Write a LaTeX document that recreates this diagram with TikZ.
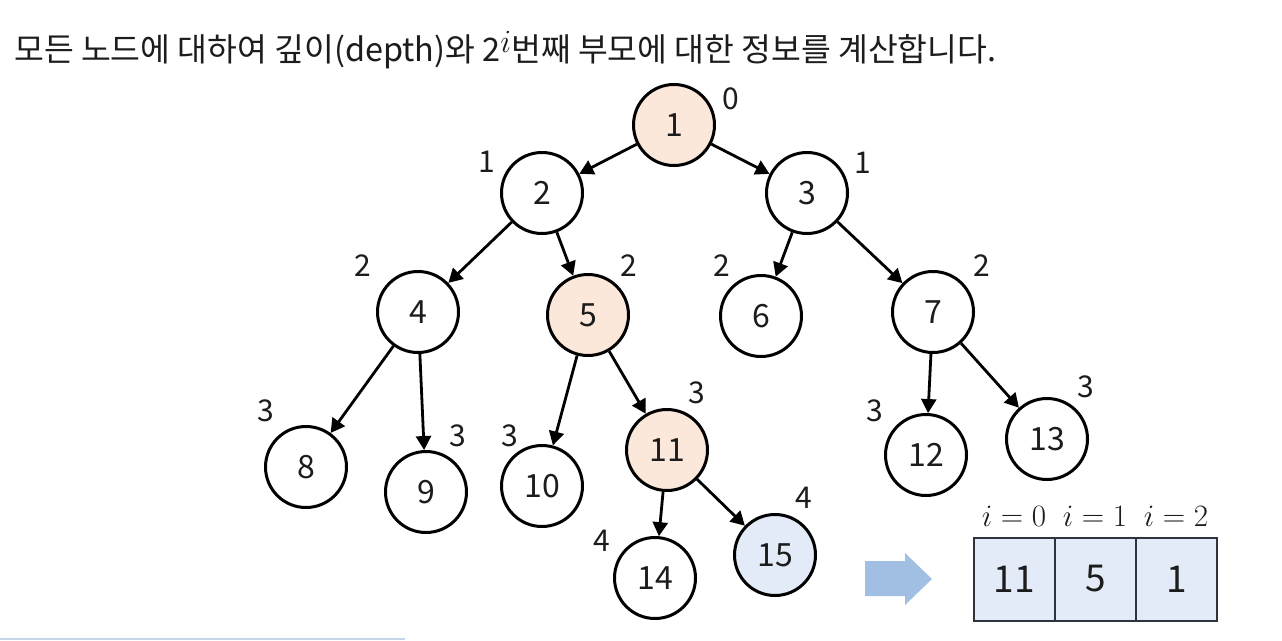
\documentclass[tikz,border=0pt]{standalone}
\usepackage{fontspec}
\setmainfont{Noto Sans CJK KR}
\usetikzlibrary{arrows.meta}
\definecolor{txt}{RGB}{28,28,28}
\definecolor{peach}{RGB}{252,232,218}
\definecolor{paleblue}{RGB}{226,235,247}
\definecolor{arrowblue}{RGB}{160,191,226}
\definecolor{boxline}{RGB}{45,52,60}
\definecolor{stripblue}{RGB}{196,214,232}
\begin{document}
\begin{tikzpicture}[x=1pt,y=-1pt,
  tn/.style={circle, draw=black, line width=3pt, minimum size=81pt, inner sep=0pt,
    fill=white, text=txt, font=\fontsize{32}{32}\selectfont},
  hl/.style={tn, fill=peach},
  hb/.style={tn, fill=paleblue},
  dl/.style={text=txt, font=\fontsize{30}{30}\selectfont, inner sep=0pt},
  edge/.style={line width=2.8pt, draw=black, -{Triangle[length=14pt,width=15pt]}},
  cell/.style={draw=boxline, line width=2pt, fill=paleblue, minimum width=81pt,
    minimum height=83pt, inner sep=0pt, text=txt, font=\fontsize{37}{37}\selectfont},
  il/.style={text=txt, font=\fontsize{24.88}{24.88}\selectfont, inner sep=0pt}]
\useasboundingbox (0,0) rectangle (1282,640);
\fill[white] (0,0) rectangle (1282,640);

% title
\node[anchor=west, text=txt, inner sep=0pt, font=\fontsize{32.4}{32.4}\selectfont] (title) at (14,50)
  {모든 노드에 대하여 깊이(depth)와 2\raisebox{0.3em}{\scalebox{1.3}{$i$}}번째 부모에 대한 정보를 계산합니다.};

% nodes
\node[hl] (n1) at (674,125) {1};
\node[tn] (n2) at (542,193) {2};
\node[tn] (n3) at (807,193) {3};
\node[tn] (n4) at (418,312) {4};
\node[hl] (n5) at (588,315) {5};
\node[tn] (n6) at (761,316) {6};
\node[tn] (n7) at (933,312) {7};
\node[tn] (n8) at (306,467) {8};
\node[tn] (n9) at (426,492) {9};
\node[tn] (n10) at (542,486) {10};
\node[hl] (n11) at (667,450) {11};
\node[tn] (n12) at (926,455) {12};
\node[tn] (n13) at (1047,439) {13};
\node[tn] (n14) at (655,578) {14};
\node[hb] (n15) at (775,555) {15};

% edges
\draw[edge] (n1) -- (n2);
\draw[edge] (n1) -- (n3);
\draw[edge] (n2) -- (n4);
\draw[edge] (n2) -- (n5);
\draw[edge] (n3) -- (n6);
\draw[edge] (n3) -- (n7);
\draw[edge] (n4) -- (n8);
\draw[edge] (n4) -- (n9);
\draw[edge] (n5) -- (n10);
\draw[edge] (n5) -- (n11);
\draw[edge] (n7) -- (n12);
\draw[edge] (n7) -- (n13);
\draw[edge] (n11) -- (n14);
\draw[edge] (n11) -- (n15);

% depth labels
\node[dl] (d1) at (731,99) {0};
\node[dl] (d2) at (487,162) {1};
\node[dl] (d3) at (863,163) {1};
\node[dl] (d4) at (363,266) {2};
\node[dl] (d5) at (629,266) {2};
\node[dl] (d6) at (722,266) {2};
\node[dl] (d7) at (982,266) {2};
\node[dl] (d8) at (266,411) {3};
\node[dl] (d9) at (458,436) {3};
\node[dl] (d10) at (510,436) {3};
\node[dl] (d11) at (697,393) {3};
\node[dl] (d12) at (875,411) {3};
\node[dl] (d13) at (1086,387) {3};
\node[dl] (d14) at (602,541) {4};
\node[dl] (d15) at (804,498) {4};

% block arrow
\fill[arrowblue] (865,561) -- (905,561) -- (905,553) -- (932,579) -- (905,605) -- (905,596) -- (865,596) -- cycle;

% array
\node[cell] (c0) at (1014.5,579) {11};
\node[cell] (c1) at (1095.5,579) {5};
\node[cell] (c2) at (1176.5,579) {1};
\node[il] (i0) at (1014,516) {\scalebox{1.25}{$i=0$}};
\node[il] (i1) at (1095,516) {\scalebox{1.25}{$i=1$}};
\node[il] (i2) at (1176,516) {\scalebox{1.25}{$i=2$}};

% bottom strip
\draw[draw=stripblue, line width=2pt] (0,638.5) -- (405,638.5);
\end{tikzpicture}
\end{document}
